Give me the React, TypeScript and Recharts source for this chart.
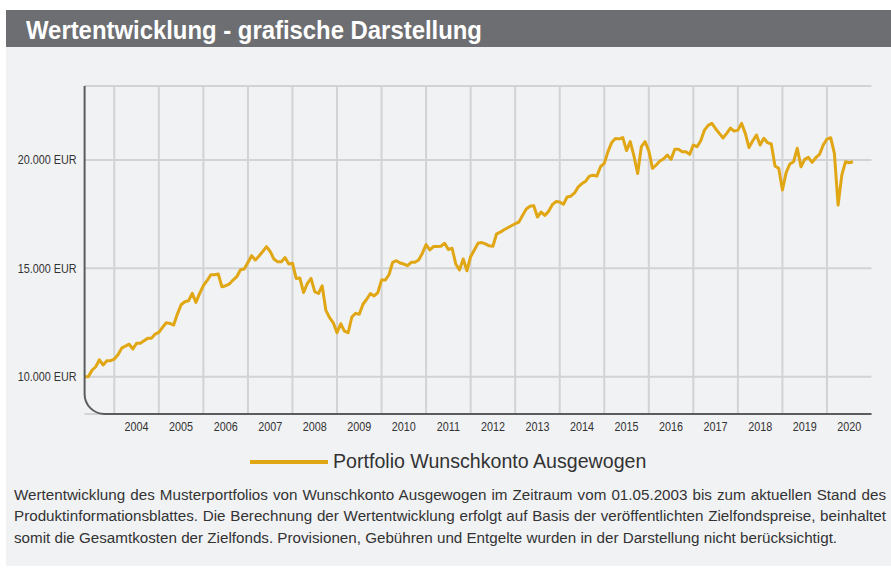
import { CartesianGrid, Line, LineChart, ReferenceLine, XAxis, YAxis } from "recharts";

// Monatswerte (EUR), Start 01.05.2003 mit 10.000 EUR
const v2003 = [10000, 10000, 10300, 10460, 10780, 10540, 10740, 10740];
const v2004 = [10815, 11015, 11320, 11415, 11500, 11280, 11540, 11540, 11660, 11770, 11780, 11970];
const v2005 = [12045, 12280, 12490, 12460, 12385, 12890, 13320, 13460, 13505, 13845, 13430, 13845];
const v2006 = [14200, 14430, 14706, 14706, 14740, 14150, 14200, 14275, 14460, 14615, 14935, 14970];
const v2007 = [15275, 15585, 15385, 15570, 15780, 16000, 15780, 15430, 15300, 15300, 15500, 15200];
const v2008 = [15240, 14535, 14550, 13885, 14300, 14535, 13930, 13840, 14195, 13065, 12725, 12490];
const v2009 = [12030, 12445, 12105, 12030, 12755, 12925, 12880, 13345, 13575, 13840, 13730, 13885];
const v2010 = [14460, 14460, 14705, 15280, 15355, 15250, 15200, 15125, 15280, 15280, 15385, 15700];
const v2011 = [16100, 15850, 16005, 16005, 16020, 16160, 15865, 15930, 15200, 14925, 15435, 14890];
const v2012 = [15540, 15850, 16160, 16190, 16130, 16040, 16020, 16595, 16670, 16780, 16873, 16966];
const v2013 = [17060, 17135, 17445, 17740, 17865, 17895, 17370, 17600, 17445, 17630, 17940, 18080];
const v2014 = [18065, 17955, 18295, 18330, 18480, 18760, 18915, 19025, 19255, 19300, 19255, 19690];
const v2015 = [19845, 20385, 20805, 20990, 20975, 21035, 20435, 20850, 20185, 19380, 20620, 20850];
const v2016 = [20420, 19615, 19770, 19955, 20060, 20230, 20030, 20495, 20495, 20385, 20385, 20260];
const v2017 = [20690, 20615, 20890, 21380, 21600, 21690, 21445, 21230, 21015, 21230, 21475, 21335];
const v2018 = [21380, 21690, 21230, 20570, 20890, 21150, 20690, 21000, 20800, 20740, 19720, 19615];
const v2019 = [18615, 19415, 19815, 19920, 20540, 19690, 20030, 20120, 19890, 20105, 20260, 20690];
const v2020 = [20965, 21030, 20305, 17920, 19305, 19920, 19875, 19920];

const years = [2003, 2004, 2005, 2006, 2007, 2008, 2009, 2010, 2011, 2012, 2013, 2014, 2015, 2016, 2017, 2018, 2019, 2020];
const valuesByYear = [v2003, v2004, v2005, v2006, v2007, v2008, v2009, v2010, v2011, v2012, v2013, v2014, v2015, v2016, v2017, v2018, v2019, v2020];

const yearLines = [2004, 2005, 2006, 2007, 2008, 2009, 2010, 2011, 2012, 2013, 2014, 2015, 2016, 2017, 2018, 2019, 2020];
const yTicks = [10000, 15000, 20000];

const data = years.flatMap((y, i) => {
  const firstMonth = y === 2003 ? 4 : 0; // Mai 2003
  return valuesByYear[i].map((v, k) => ({ t: y + (firstMonth + k) / 12, v }));
});

const LINE = "#e1a614";
const GRID = "#d2d3d5";
const AXIS = "#5b5c5e";
const FONT = "'Liberation Sans', Arial, sans-serif";

const W = 891;
const H = 460;
const PLOT_LEFT = 84.6;
const PLOT_RIGHT = 871.5;
const PLOT_TOP = 86;
const PLOT_BOTTOM = 414;
const Y_AXIS_W = 70;
const X_AXIS_H = 30;

const fmtEur = (n: number) => `${n.toLocaleString("de-DE")} EUR`;

// schmale Schrift wie im Original
function YTick({ x, y, payload }: any) {
  return (
    <g transform={`translate(${x},${y}) scale(0.9,1)`}>
      <text x={0} y={0} dy="0.355em" textAnchor="end" fontSize={12} fill="#333" fontFamily={FONT}>
        {fmtEur(payload.value)}
      </text>
    </g>
  );
}

function XTick({ x, y, payload }: any) {
  return (
    <g transform={`translate(${x},${y}) scale(0.9,1)`}>
      <text x={0} y={0} dy="0.71em" textAnchor="middle" fontSize={12} fill="#333" fontFamily={FONT}>
        {Math.floor(payload.value)}
      </text>
    </g>
  );
}

export default function App() {
  const r = 20;
  return (
    <div style={{ position: "absolute", left: 0, top: 0, width: 891, height: 574, background: "#fff", fontFamily: FONT }}>
      <div style={{ position: "absolute", left: 6, top: 47, width: 885, height: 519, background: "#f1f2f4" }} />
      <div style={{ position: "absolute", left: 6, top: 10, width: 885, height: 37, background: "#6d6e71" }} />
      <div
        style={{
          position: "absolute",
          left: 26,
          top: 17.9,
          fontSize: 25,
          lineHeight: "25px",
          fontWeight: "bold",
          color: "#fff",
          whiteSpace: "nowrap",
          transform: "scaleX(0.955)",
          transformOrigin: "left top",
        }}
      >
        Wertentwicklung - grafische Darstellung
      </div>

      <div style={{ position: "absolute", left: 0, top: 0 }}>
        <LineChart
          width={W}
          height={H}
          data={data}
          margin={{ top: PLOT_TOP, right: W - PLOT_RIGHT, bottom: H - PLOT_BOTTOM - X_AXIS_H, left: PLOT_LEFT - Y_AXIS_W }}
        >
          <CartesianGrid vertical={false} stroke={GRID} strokeWidth={2} />
          {yearLines.map((y) => (
            <ReferenceLine key={y} x={y} stroke={GRID} strokeWidth={2} />
          ))}
          <XAxis
            dataKey="t"
            type="number"
            domain={[2003 + 4 / 12, 2021]}
            ticks={yearLines.map((y) => y + 0.5)}
            tick={<XTick />}
            tickSize={0}
            tickMargin={8}
            axisLine={false}
            tickLine={false}
            height={X_AXIS_H}
            interval={0}
          />
          <YAxis
            type="number"
            domain={[8280, 23415]}
            ticks={yTicks}
            tick={<YTick />}
            tickSize={0}
            tickMargin={8}
            axisLine={false}
            tickLine={false}
            width={Y_AXIS_W}
            interval={0}
          />
          <Line
            type="linear"
            dataKey="v"
            stroke={LINE}
            strokeWidth={3}
            dot={false}
            activeDot={false}
            isAnimationActive={false}
            strokeLinejoin="round"
          />
        </LineChart>
      </div>

      <svg
        width={W}
        height={H}
        style={{ position: "absolute", left: 0, top: 0, pointerEvents: "none" }}
      >
        <path
          d={`M${PLOT_LEFT},${PLOT_TOP} V${PLOT_BOTTOM - r} A${r},${r} 0 0 0 ${PLOT_LEFT + r},${PLOT_BOTTOM} H${PLOT_RIGHT}`}
          fill="none"
          stroke={AXIS}
          strokeWidth={2}
        />
      </svg>

      <div style={{ position: "absolute", left: 250, top: 460, width: 78, height: 4, background: LINE }} />
      <div
        style={{
          position: "absolute",
          left: 333,
          top: 452.4,
          fontSize: 19.6,
          lineHeight: "19.6px",
          color: "#333",
          whiteSpace: "nowrap",
        }}
      >
        Portfolio Wunschkonto Ausgewogen
      </div>

      <div
        style={{
          position: "absolute",
          left: 14,
          top: 483.5,
          width: 872,
          fontSize: 15.2,
          lineHeight: "21.5px",
          color: "#333",
        }}
      >
        <div style={{ whiteSpace: "nowrap", textAlign: "justify", textAlignLast: "justify" }}>
          Wertentwicklung des Musterportfolios von Wunschkonto Ausgewogen im Zeitraum vom 01.05.2003 bis zum aktuellen Stand des
        </div>
        <div style={{ whiteSpace: "nowrap", textAlign: "justify", textAlignLast: "justify" }}>
          Produktinformationsblattes. Die Berechnung der Wertentwicklung erfolgt auf Basis der veröffentlichten Zielfondspreise, beinhaltet
        </div>
        <div style={{ whiteSpace: "nowrap" }}>
          somit die Gesamtkosten der Zielfonds. Provisionen, Gebühren und Entgelte wurden in der Darstellung nicht berücksichtigt.
        </div>
      </div>
    </div>
  );
}
